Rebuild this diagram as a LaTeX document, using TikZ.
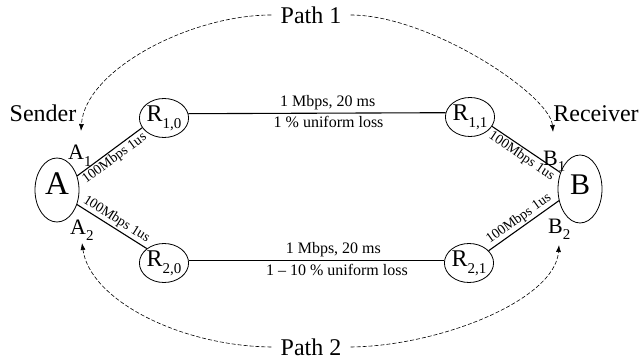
\documentclass[tikz,border=0pt]{standalone}
\usepackage{fontspec}
\setmainfont{Liberation Serif}
\usetikzlibrary{shapes.geometric,arrows.meta}
% lowered, smaller index after a letter
\newcommand\subl[1]{\raisebox{-0.28em}{\fontsize{15}{15}\selectfont #1}}

\begin{document}
\begin{tikzpicture}[x=1pt,y=-1pt,
  hostnode/.style={draw, ellipse, line width=0.8pt, inner sep=0pt, minimum width=44pt},
  router/.style={draw, ellipse, line width=0.8pt, inner sep=0pt, minimum width=48pt,
    minimum height=39pt, font=\fontsize{24}{24}\selectfont},
  access/.style={line width=1.1pt},
  core/.style={line width=1.1pt},
  accesslbl/.style={sloped, font=\fontsize{14}{14}\selectfont, inner sep=1.5pt},
  corelbl/.style={font=\fontsize{16}{16}\selectfont, inner sep=3pt},
  biglbl/.style={font=\fontsize{24}{24}\selectfont, inner sep=0pt},
  portlbl/.style={font=\fontsize{22}{22}\selectfont, inner sep=0pt, anchor=base west},
  pathlink/.style={dash pattern=on 4pt off 2pt, line width=0.6pt,
    -{Latex[length=7pt,width=5pt]}}
]
\useasboundingbox (0,0) rectangle (639,358);

% end hosts
\node[hostnode, minimum height=64pt, font=\fontsize{33}{33}\selectfont, text depth=12pt] (a) at (57,190) {A};
\node[hostnode, minimum height=68pt, font=\fontsize{30}{30}\selectfont, text depth=8pt] (b) at (580,189) {B};

% routers
\node[router] (r10) at (164,118) {R\subl{1,0}};
\node[router] (r11) at (470,117) {R\subl{1,1}};
\node[router] (r20) at (164,263) {R\subl{2,0}};
\node[router] (r21) at (469,263) {R\subl{2,1}};

% interface names
\node[portlbl] (a1) at (68,160) {A\subl{1}};
\node[portlbl] (a2) at (70,234) {A\subl{2}};
\node[portlbl] (b1) at (543,165) {B\subl{1}};
\node[portlbl] (b2) at (548,233) {B\subl{2}};

% access links
\draw[access] (a.35) -- node[accesslbl, below]{100Mbps 1us} (r10.204);
\draw[access] (a.324) -- node[accesslbl, above]{100Mbps 1us} (r20.140);
\draw[access] (r11.337) -- node[accesslbl, below]{100Mbps 1us} (b.140);
\draw[access] (r21.32) -- node[accesslbl, above]{100Mbps 1us} (b.209);

% bottleneck links
\draw[core] (r10.10) --
  node[corelbl, above, pos=0.542]{1 Mbps, 20 ms}
  node[corelbl, below, pos=0.545]{1 \% uniform loss} (r11.170);
\draw[core] (r20.5) --
  node[corelbl, above, pos=0.566]{1 Mbps, 20 ms}
  node[corelbl, below, pos=0.58]{1 \textendash{} 10 \% uniform loss} (r21.175);

% roles
\node[biglbl, anchor=base] (sender) at (43,122) {Sender};
\node[biglbl, anchor=base] (receiver) at (596,122) {Receiver};

% path annotations
\node[biglbl, inner xsep=9pt] (path1) at (311,15) {Path 1};
\node[biglbl, inner xsep=9pt] (path2) at (311,347) {Path 2};

\coordinate (sendtip) at (81,131);
\coordinate (recvtip) at (553,132);
\coordinate (a2tip) at (82,243);
\coordinate (b2tip) at (559,245);

\draw[pathlink] (path1.west) .. controls (190,15) and (85,70) .. (sendtip);
\draw[pathlink] (path1.east) .. controls (430,15) and (550,95) .. (recvtip);
\draw[pathlink] (path2.west) .. controls (180,346) and (90,300) .. (a2tip);
\draw[pathlink] (path2.east) .. controls (440,346) and (555,300) .. (b2tip);
\end{tikzpicture}
\end{document}
